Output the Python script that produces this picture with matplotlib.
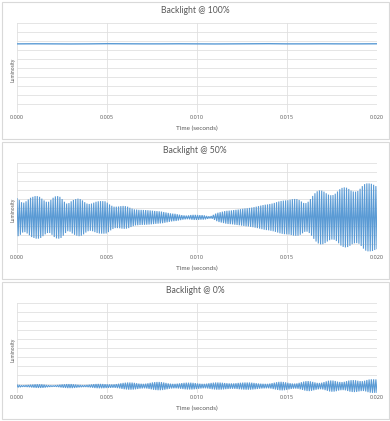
import numpy as np
import matplotlib
matplotlib.use("Agg")
import matplotlib.pyplot as plt
from matplotlib.patches import Rectangle

titles = ["Backlight @ 100%", "Backlight @ 50%", "Backlight @ 0%"]
x_ticks = [0.000, 0.005, 0.010, 0.015, 0.020]
x_tick_labels = ["0.000", "0.005", "0.010", "0.015", "0.020"]
x_label = "Time (seconds)"
y_label = "Luminosity"

# 100% : flat line
p100_level = [7.70, 7.71, 7.70, 7.69, 7.70, 7.72, 7.71, 7.70, 7.70, 7.71, 7.70,
              7.69, 7.70, 7.71, 7.72, 7.70, 7.70, 7.71, 7.70, 7.70, 7.71]

# 50% : per-cycle swing around centre
p50_center = 3.95
p50_swing = [2.1, 1.95, 1.7, 1.65, 1.8, 2.0, 2.2, 2.3, 2.38, 2.38,
             2.3, 2.1, 1.9, 1.75, 1.75, 1.95, 2.2, 2.35, 2.38, 2.3,
             2.05, 1.75, 1.55, 1.6, 1.8, 1.95, 2.05, 2.1, 2.05, 1.9,
             1.7, 1.55, 1.5, 1.55, 1.65, 1.75, 1.8, 1.82, 1.82, 1.8,
             1.65, 1.45, 1.3, 1.2, 1.2, 1.22, 1.26, 1.28, 1.26, 1.2,
             1.08, 0.98, 0.9, 0.88, 0.85, 0.84, 0.83, 0.82, 0.8, 0.78,
             0.75, 0.72, 0.7, 0.68, 0.65, 0.6, 0.55, 0.5, 0.45, 0.42,
             0.4, 0.35, 0.3, 0.25, 0.22, 0.2, 0.22, 0.26, 0.28, 0.28,
             0.27, 0.25, 0.25, 0.22, 0.16, 0.12, 0.15, 0.28, 0.42, 0.52,
             0.58, 0.64, 0.7, 0.74, 0.76, 0.78, 0.82, 0.85, 0.88, 0.92,
             0.96, 1.0, 1.02, 1.06, 1.1, 1.15, 1.2, 1.26, 1.32, 1.38,
             1.42, 1.45, 1.5, 1.55, 1.62, 1.7, 1.78, 1.84, 1.88, 1.9,
             1.92, 1.98, 2.04, 2.06, 2.05, 1.95, 1.78, 1.62, 1.6, 1.75,
             2.05, 2.4, 2.7, 2.92, 3.02, 3.0, 2.88, 2.7, 2.55, 2.48,
             2.5, 2.65, 2.9, 3.15, 3.3, 3.36, 3.32, 3.18, 3.0, 2.9,
             2.88, 2.95, 3.2, 3.5, 3.72, 3.8, 3.8, 3.76, 3.65, 3.5]

# 0% : per-cycle swing around centre
p0_center = 0.74
p0_swing = [0.15, 0.12, 0.08, 0.08, 0.1, 0.12, 0.15, 0.17, 0.19, 0.2,
            0.2, 0.19, 0.16, 0.12, 0.09, 0.07, 0.06, 0.08, 0.11, 0.15,
            0.18, 0.2, 0.22, 0.22, 0.22, 0.2, 0.17, 0.14, 0.12, 0.1,
            0.1, 0.12, 0.15, 0.18, 0.21, 0.23, 0.24, 0.24, 0.23, 0.21,
            0.2, 0.19, 0.18, 0.19, 0.22, 0.26, 0.31, 0.35, 0.38, 0.4,
            0.4, 0.39, 0.36, 0.32, 0.28, 0.26, 0.25, 0.27, 0.31, 0.36,
            0.41, 0.44, 0.46, 0.46, 0.44, 0.4, 0.35, 0.3, 0.27, 0.25,
            0.25, 0.27, 0.3, 0.33, 0.36, 0.38, 0.38, 0.38, 0.36, 0.33,
            0.3, 0.27, 0.25, 0.25, 0.27, 0.31, 0.35, 0.38, 0.4, 0.4,
            0.39, 0.37, 0.34, 0.32, 0.3, 0.3, 0.3, 0.32, 0.35, 0.37,
            0.39, 0.4, 0.4, 0.4, 0.38, 0.35, 0.32, 0.29, 0.27, 0.26,
            0.25, 0.25, 0.28, 0.33, 0.38, 0.43, 0.47, 0.48, 0.46, 0.42,
            0.37, 0.32, 0.29, 0.28, 0.3, 0.36, 0.43, 0.5, 0.55, 0.56,
            0.53, 0.47, 0.41, 0.36, 0.35, 0.38, 0.45, 0.53, 0.6, 0.63,
            0.62, 0.57, 0.5, 0.46, 0.45, 0.48, 0.55, 0.62, 0.66, 0.67,
            0.65, 0.6, 0.56, 0.55, 0.6, 0.68, 0.74, 0.76, 0.76, 0.75]


def wave(center, swing):
    s = np.asarray(swing)
    y = np.empty(2 * len(s))
    y[0::2] = center + s
    y[1::2] = center - s
    x = np.linspace(0, 0.02, len(y))
    return x, y


W, H = 390, 421
fig = plt.figure(figsize=(W / 100, H / 100), dpi=100)
fig.patch.set_facecolor("white")
FONT = "Lato"
TXT = "#595959"
GRID = "#e0e0e0"
BLUE = "#5b9bd5"

series = [
    (np.linspace(0, 0.02, len(p100_level)), np.asarray(p100_level)),
    wave(p50_center, p50_swing),
    wave(p0_center, p0_swing),
]

for k in range(3):
    off = 140 * k
    fig.patches.append(Rectangle((1.5 / W, 1 - (off + 138.5) / H), 387 / W, 137 / H,
                                 transform=fig.transFigure, fill=False,
                                 ec="#d9d9d9", lw=0.8))
    ax = fig.add_axes([17 / W, 1 - (off + 112.7) / H, 360 / W, 89.4 / H])
    ax.set_xlim(0, 0.02)
    ax.set_ylim(0, 10)
    ax.set_yticks(range(0, 11))
    ax.set_xticks(x_ticks)
    ax.set_xticklabels(x_tick_labels, fontsize=4.0, color=TXT, family="Open Sans")
    ax.tick_params(length=0, labelleft=False, pad=1.8)
    ax.grid(True, color=GRID, lw=0.6)
    ax.set_axisbelow(True)
    for sp in ax.spines.values():
        sp.set_visible(False)
    x, y = series[k]
    ax.plot(x, y, color=BLUE, lw=1.0 if k == 0 else 0.8, solid_joinstyle="miter")

    fig.text(0.5, 1 - (off + 10.5) / H, titles[k], ha="center", va="center",
             fontsize=6.2, color=TXT, family=FONT)
    fig.text(197 / W, 1 - (off + 128.3) / H, x_label, ha="center", va="center",
             fontsize=4.6, color=TXT, family=FONT)
    fig.text(12.7 / W, 1 - (off + 70) / H, y_label, ha="center", va="center",
             rotation=90, fontsize=3.6, color=TXT, family=FONT)

fig.savefig("out.png", dpi=100, facecolor="white")
